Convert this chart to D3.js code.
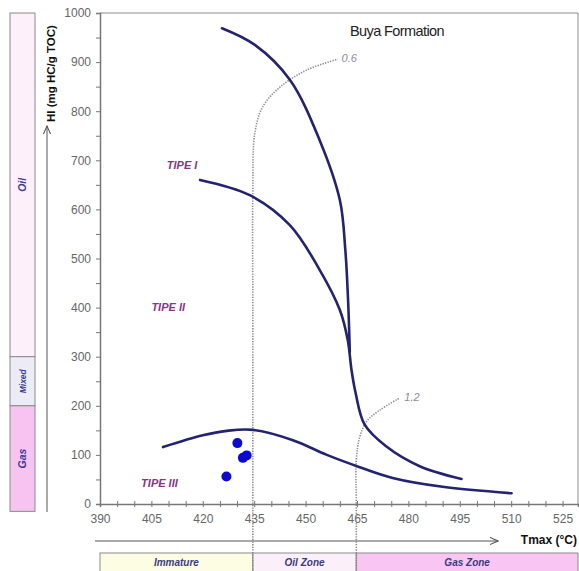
<!DOCTYPE html>
<html>
<head>
<meta charset="utf-8">
<script src="https://cdn.jsdelivr.net/npm/d3@7"></script>
<style>
  body { margin: 0; background: #fff; }
  svg { display: block; font-family: Arial, "Liberation Sans", sans-serif; }
</style>
</head>
<body>
<svg id="chart" width="579" height="571"></svg>
<script>
// data
const xTicks = [390, 405, 420, 435, 450, 465, 480, 495, 510, 525];
const yTicks = [0, 100, 200, 300, 400, 500, 600, 700, 800, 900, 1000];

// type curves [Tmax, HI]
const tipeI = [[425.6, 969], [435.2, 935], [445.4, 864], [454.1, 741], [460, 619], [461.6, 517], [462.4, 415], [462.9, 310]];
const tipeII = [[419.2, 660], [433.7, 629], [445.4, 568], [454.1, 477], [460, 395], [462.3, 334], [463.4, 273], [464.6, 226], [467.2, 162], [473.4, 118], [483.3, 77], [495.5, 51]];
const tipeIII = [[408.4, 116], [420, 140], [427, 149], [434.6, 151], [446.3, 130], [456.2, 100], [465.8, 75], [475.4, 53], [490, 35], [510.1, 22]];

// isoreflectance lines
const ro06 = [[434.6, -137], [434.6, 0], [434.6, 400], [434.6, 633], [435.2, 756], [437.5, 809], [442.5, 849], [450.4, 884], [459.4, 906]];
const ro12 = [[464.8, -137], [464.8, 0], [464.8, 90], [465.8, 136], [467.8, 168], [471.6, 191], [477.5, 216]];

// samples
const samples = [[430.1, 124], [432.8, 99], [431.7, 94], [426.9, 56]];

// zones
const hiZones = [
  { name: "Oil", from: 300, to: 1000, fill: "#fdf0fa" },
  { name: "Mixed", from: 200, to: 300, fill: "#ececf7" },
  { name: "Gas", from: -15, to: 200, fill: "#f7c4f1" }
];
const tmaxZones = [
  { name: "Immature", from: 390, to: 434.6, fill: "#fdfde4" },
  { name: "Oil Zone", from: 434.6, to: 464.8, fill: "#fbf0f9" },
  { name: "Gas Zone", from: 464.8, to: 529.5, fill: "#f9c6f3" }
];

const svg = d3.select("#chart");

const x = d3.scaleLinear().domain([390, 529.5]).range([100, 578]);
const y = d3.scaleLinear().domain([0, 1000]).range([504, 13]);

const navy = "#23236f";
const purple = "#8a3488";

// left HI zone bar
svg.selectAll(".hiz")
  .data(hiZones)
  .enter()
  .append("rect")
  .attr("x", 10)
  .attr("width", 25)
  .attr("y", (d) => y(d.to))
  .attr("height", (d) => y(d.from) - y(d.to))
  .attr("fill", (d) => d.fill)
  .attr("stroke", "#8a8a8a")
  .attr("stroke-width", 1);

svg.selectAll(".hizt")
  .data(hiZones)
  .enter()
  .append("text")
  .attr("transform", (d) => "translate(26," + y((d.from + d.to) / 2) + ") rotate(-90)")
  .attr("text-anchor", "middle")
  .attr("font-size", (d) => (d.name == "Mixed" ? 8.5 : 10.5))
  .attr("font-weight", "bold")
  .attr("font-style", "italic")
  .attr("fill", "#3b3b96")
  .text((d) => d.name);

// arrows
const defs = svg.append("defs");
defs.append("marker")
  .attr("id", "arr")
  .attr("viewBox", "0 0 10 10")
  .attr("refX", 9)
  .attr("refY", 5)
  .attr("markerWidth", 9)
  .attr("markerHeight", 9)
  .attr("orient", "auto")
  .append("path")
  .attr("d", "M0,1 L9,5 L0,9")
  .attr("fill", "none")
  .attr("stroke", "#555")
  .attr("stroke-width", 1.2);

svg.append("line")
  .attr("x1", 47).attr("x2", 47)
  .attr("y1", 512).attr("y2", 126)
  .attr("stroke", "#555").attr("stroke-width", 1)
  .attr("marker-end", "url(#arr)");

svg.append("text")
  .attr("transform", "translate(55,122) rotate(-90)")
  .attr("font-size", 11.5)
  .attr("font-weight", "bold")
  .attr("fill", "#111")
  .text("HI (mg HC/g TOC)");

svg.append("line")
  .attr("x1", 95).attr("x2", 498)
  .attr("y1", 541).attr("y2", 541)
  .attr("stroke", "#555").attr("stroke-width", 1)
  .attr("marker-end", "url(#arr)");

svg.append("text")
  .attr("x", 577)
  .attr("y", 544)
  .attr("text-anchor", "end")
  .attr("font-size", 12)
  .attr("font-weight", "bold")
  .attr("fill", "#111")
  .text("Tmax (°C)");

// bottom Tmax zone bar
svg.selectAll(".tz")
  .data(tmaxZones)
  .enter()
  .append("rect")
  .attr("x", (d) => x(d.from))
  .attr("width", (d) => x(d.to) - x(d.from))
  .attr("y", 553)
  .attr("height", 30)
  .attr("fill", (d) => d.fill)
  .attr("stroke", "#8a8a8a")
  .attr("stroke-width", 1);

svg.selectAll(".tzt")
  .data(tmaxZones)
  .enter()
  .append("text")
  .attr("x", (d) => x((d.from + d.to) / 2))
  .attr("y", 566)
  .attr("text-anchor", "middle")
  .attr("font-size", 10)
  .attr("font-weight", "bold")
  .attr("font-style", "italic")
  .attr("fill", "#3b3b80")
  .text((d) => d.name);

// plot frame
svg.append("path")
  .attr("d", "M" + x(390) + "," + y(1000) + "H" + x(529.5) + "V" + y(0))
  .attr("fill", "none")
  .attr("stroke", "#8a8a8a")
  .attr("stroke-width", 1);

// y axis
const yAxis = d3.axisLeft(y)
  .tickValues(d3.range(0, 1001, 50))
  .tickSize(4)
  .tickFormat((d) => (yTicks.includes(d) ? d : ""));
const gy = svg.append("g").attr("transform", "translate(" + x(390) + ",0)").call(yAxis);
gy.select(".domain").attr("stroke", "#777").attr("stroke-width", 1.5);
gy.selectAll(".tick line").attr("stroke", "#777");
gy.selectAll(".tick text").attr("font-size", 12).attr("fill", "#666").attr("x", -9).attr("font-family", "Arial, sans-serif");

// x axis
const xa = d3.axisBottom(x)
  .tickValues(d3.range(390, 530, 5))
  .tickSize(3)
  .tickFormat((d) => (xTicks.includes(d) ? d : ""));
const gx = svg.append("g").attr("transform", "translate(0," + y(0) + ")").call(xa);
gx.select(".domain").attr("stroke", "#777").attr("stroke-width", 1.5);
gx.selectAll(".tick line").attr("stroke", "#777").attr("y1", -3);
gx.selectAll(".tick text").attr("font-size", 12).attr("fill", "#666").attr("dy", "1.05em").attr("font-family", "Arial, sans-serif");

// isoreflectance lines
const isoLine = d3.line()
  .x((p) => x(p[0]))
  .y((p) => y(p[1]))
  .curve(d3.curveCatmullRom);

[ro06, ro12].forEach((d) => {
  svg.append("path")
    .attr("d", isoLine(d))
    .attr("fill", "none")
    .attr("stroke", "#8c8c8c")
    .attr("stroke-width", 1.6)
    .attr("stroke-dasharray", "1.3,1.3");
});

svg.append("text")
  .attr("x", x(460.5)).attr("y", y(900))
  .attr("font-size", 11).attr("font-style", "italic").attr("fill", "#8a8aa0")
  .text("0.6");
svg.append("text")
  .attr("x", x(478.8)).attr("y", y(209))
  .attr("font-size", 11).attr("font-style", "italic").attr("fill", "#8a8aa0")
  .text("1.2");

// type curves
const curve = d3.line()
  .x((d) => x(d[0]))
  .y((d) => y(d[1]))
  .curve(d3.curveCatmullRom);

[tipeI, tipeII, tipeIII].forEach((d) => {
  svg.append("path")
    .attr("d", curve(d))
    .attr("fill", "none")
    .attr("stroke", navy)
    .attr("stroke-width", 2.6)
    .attr("stroke-linecap", "round");
});

// type labels
const tipeLabels = [
  { text: "TIPE I", t: 409.5, hi: 683 },
  { text: "TIPE II", t: 405, hi: 393 },
  { text: "TIPE III", t: 402, hi: 35 }
];
svg.selectAll(".tl")
  .data(tipeLabels)
  .enter()
  .append("text")
  .attr("x", (d) => x(d.t))
  .attr("y", (d) => y(d.hi))
  .attr("font-size", 11)
  .attr("font-weight", "bold")
  .attr("font-style", "italic")
  .attr("fill", purple)
  .text((d) => d.text);

// samples
svg.selectAll(".pt")
  .data(samples)
  .enter()
  .append("circle")
  .attr("cx", (d) => x(d[0]))
  .attr("cy", (d) => y(d[1]))
  .attr("r", 5)
  .attr("fill", "#0a0ad0");

// title
svg.append("text")
  .attr("x", 350)
  .attr("y", 36)
  .attr("font-size", 14.5)
  .attr("fill", "#222")
  .attr("letter-spacing", -0.6)
  .text("Buya Formation");
</script>
</body>
</html>
